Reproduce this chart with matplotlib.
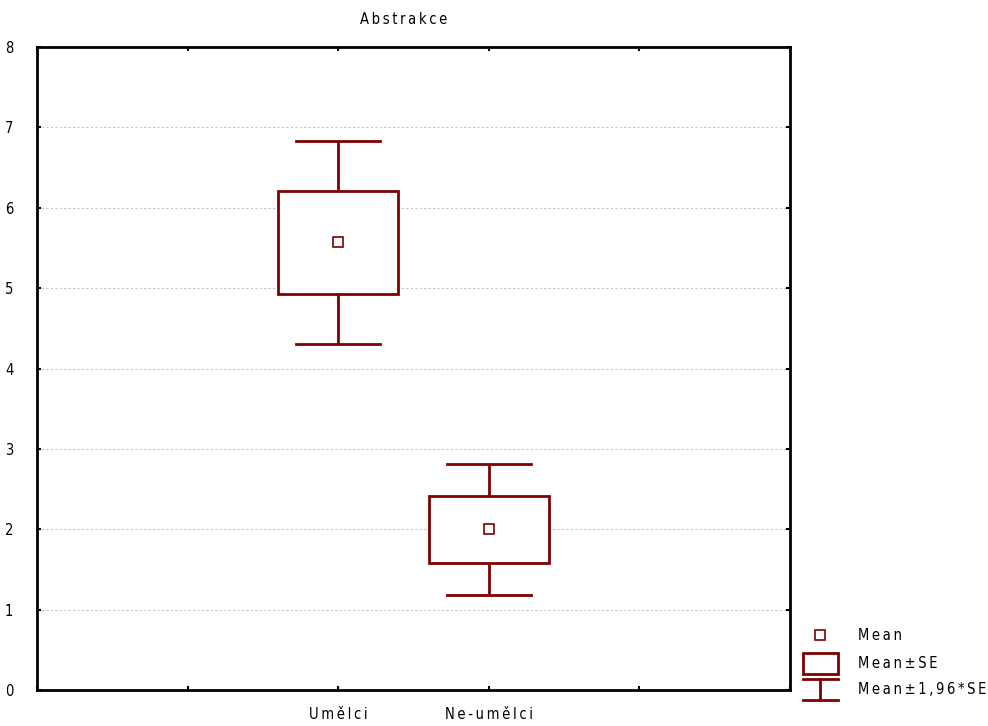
import matplotlib
matplotlib.use("Agg")
import matplotlib.pyplot as plt
from matplotlib.patches import Rectangle

# Group means and standard errors for the "Abstrakce" score
groups = ["Umělci", "Ne-umělci"]
means = [5.57, 2.00]
std_errs = [0.643, 0.415]
ci_factor = 1.96

y_ticks = [0, 1, 2, 3, 4, 5, 6, 7, 8]
title = "Abstrakce"
legend_labels = ["Mean", "Mean±SE", "Mean±1,96*SE"]

RED = "#800000"
SP = "\u2009"


def spaced(s):
    return SP.join(s)


plt.rcParams["font.family"] = ["DejaVu Sans"]
plt.rcParams["font.stretch"] = "condensed"

fig = plt.figure(figsize=(9.88, 7.26), dpi=100)
W, H = 988, 726
ax = fig.add_axes([37 / W, 1 - 690 / H, (790 - 37) / W, (690 - 47) / H])

positions = [2, 3]
box_w = 0.8
cap_w = 0.56

for x, m, se in zip(positions, means, std_errs):
    lo, hi = m - ci_factor * se, m + ci_factor * se
    # whiskers (mean ± 1.96*SE)
    ax.plot([x, x], [lo, m - se], color=RED, lw=2, zorder=3, solid_capstyle="butt")
    ax.plot([x, x], [m + se, hi], color=RED, lw=2, zorder=3, solid_capstyle="butt")
    ax.plot([x - cap_w / 2, x + cap_w / 2], [lo, lo], color=RED, lw=2, zorder=3)
    ax.plot([x - cap_w / 2, x + cap_w / 2], [hi, hi], color=RED, lw=2, zorder=3)
    # box (mean ± SE)
    ax.add_patch(Rectangle((x - box_w / 2, m - se), box_w, 2 * se,
                           facecolor="white", edgecolor=RED, lw=2, zorder=3))
    # mean marker
    ax.plot([x], [m], marker="s", ms=7.5, mfc="white", mec=RED, mew=1.2,
            zorder=4, linestyle="none")

ax.set_xlim(0, 5)
ax.set_ylim(0, 8)
ax.set_xticks([0, 1, 2, 3, 4, 5])
ax.set_xticklabels(["", "", spaced(groups[0]), spaced(groups[1]), "", ""])
ax.set_yticks(y_ticks)
ax.set_yticklabels([str(v) for v in y_ticks])
ax.tick_params(direction="in", length=3, width=1.5, top=True, right=True,
               labelsize=10.5, colors="black")
ax.tick_params(axis="y", pad=17)
ax.tick_params(axis="x", pad=12)
for sp in ax.spines.values():
    sp.set_linewidth(2)
    sp.set_color("black")

for v in y_ticks[1:-1]:
    ax.axhline(v, color="#c4c4c4", lw=0.8, ls=(0, (2, 2)), zorder=1)

fig.text(404 / W, 1 - 20 / H, spaced(title), ha="center", va="center",
         fontsize=10.5)

# legend drawn in pixel coordinates to the right of the plot
lax = fig.add_axes([0, 0, 1, 1], facecolor="none")
lax.set_xlim(0, W)
lax.set_ylim(H, 0)
lax.axis("off")
lax.plot([820], [635], marker="s", ms=7.5, mfc="white", mec=RED, mew=1.2)
lax.add_patch(Rectangle((803, 653), 35, 21, facecolor="white",
                        edgecolor=RED, lw=2))
lax.plot([803, 838], [679, 679], color=RED, lw=2)
lax.plot([820, 820], [679, 700], color=RED, lw=2)
lax.plot([803, 838], [700, 700], color=RED, lw=2)
for yy, lab in zip([636, 663, 690], legend_labels):
    lax.text(858, yy, spaced(lab), ha="left", va="center", fontsize=10.5)

fig.savefig("out.png", dpi=100)
